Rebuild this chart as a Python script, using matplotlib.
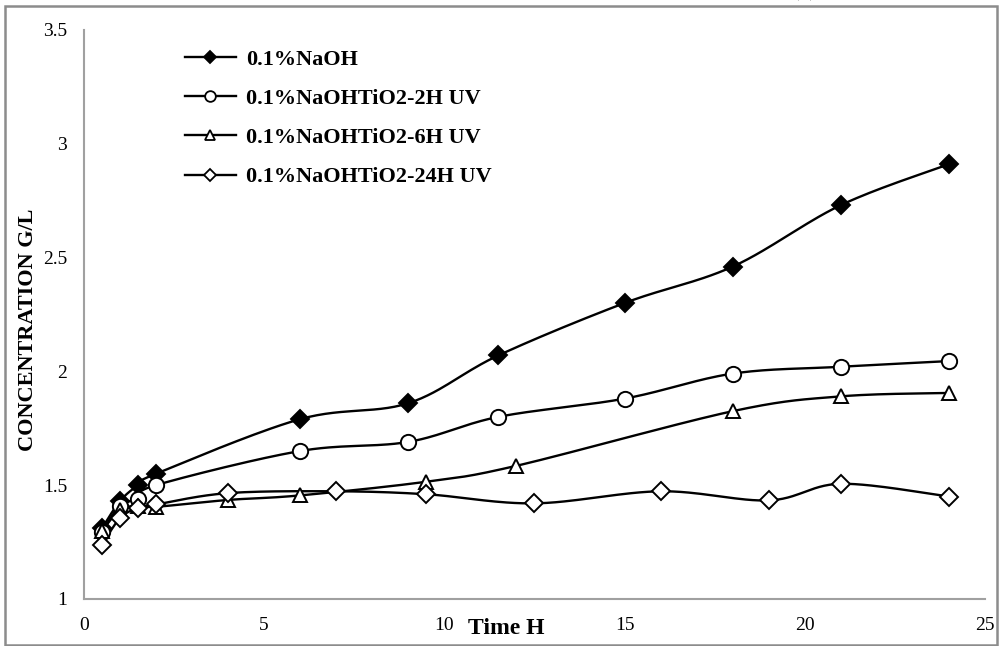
import numpy as np
import matplotlib
matplotlib.use("Agg")
import matplotlib.pyplot as plt
from matplotlib.patches import Rectangle

plt.rcParams['font.family'] = ['Liberation Serif', 'DejaVu Serif']

# data
naoh_x = [0.5, 1, 1.5, 2, 6, 9, 11.5, 15, 18, 21, 24]
naoh_y = [1.31, 1.43, 1.50, 1.55, 1.79, 1.86, 2.07, 2.30, 2.46, 2.73, 2.91]

uv2_x = [0.5, 1, 1.5, 2, 6, 9, 11.5, 15, 18, 21, 24]
uv2_y = [1.295, 1.41, 1.44, 1.50, 1.65, 1.69, 1.80, 1.88, 1.99, 2.02, 2.045]

uv6_x = [0.5, 1, 1.5, 2, 4, 6, 9.5, 12, 18, 21, 24]
uv6_y = [1.30, 1.39, 1.41, 1.405, 1.435, 1.455, 1.515, 1.585, 1.825, 1.89, 1.905]

uv24_x = [0.5, 1, 1.5, 2, 4, 7, 9.5, 12.5, 16, 19, 21, 24]
uv24_y = [1.237, 1.355, 1.40, 1.415, 1.465, 1.473, 1.46, 1.42, 1.473, 1.433, 1.506, 1.45]

labels = ['0.1%NaOH', '0.1%NaOHTiO2-2H UV', '0.1%NaOHTiO2-6H UV', '0.1%NaOHTiO2-24H UV']


def smooth(x, y, n=30):
    # catmull-rom style bezier, like the excel "smoothed line"
    x = np.asarray(x, float)
    y = np.asarray(y, float)
    p = np.column_stack([x, y])
    pts = [p[0]]
    t = np.linspace(0, 1, n)[1:]
    for i in range(len(p) - 1):
        p0 = p[i - 1] if i > 0 else p[i]
        p1 = p[i]
        p2 = p[i + 1]
        p3 = p[i + 2] if i + 2 < len(p) else p[i + 1]
        c1 = p1 + (p2 - p0) / 6.0
        c2 = p2 - (p3 - p1) / 6.0
        for tt in t:
            b = ((1 - tt) ** 3) * p1 + 3 * ((1 - tt) ** 2) * tt * c1 \
                + 3 * (1 - tt) * tt ** 2 * c2 + tt ** 3 * p2
            pts.append(b)
    pts = np.array(pts)
    return pts[:, 0], pts[:, 1]


fig = plt.figure(figsize=(9.99, 6.46), dpi=100)
ax = fig.add_axes([0.084, 0.0728, 0.902, 0.881])

series = [
    (naoh_x, naoh_y, 'D', 'black', 9),
    (uv2_x, uv2_y, 'o', 'white', 11),
    (uv6_x, uv6_y, '^', 'white', 10.5),
    (uv24_x, uv24_y, 'D', 'white', 9),
]

handles = []
for (x, y, m, fc, ms), lab in zip(series, labels):
    sx, sy = smooth(x, y)
    ax.plot(sx, sy, color='black', lw=1.7, zorder=2)
    ax.plot(x, y, linestyle='none', marker=m, markersize=ms,
            markerfacecolor=fc, markeredgecolor='black', markeredgewidth=1.4, zorder=3)
    h, = ax.plot([], [], color='black', lw=1.7, marker=m, markersize=ms * 0.7,
                 markerfacecolor=fc, markeredgecolor='black', markeredgewidth=1.3)
    handles.append(h)

ax.set_xlim(0, 25)
ax.set_ylim(1, 3.5)
ax.set_xticks([0, 5, 10, 15, 20, 25])
ax.set_yticks([1, 1.5, 2, 2.5, 3, 3.5])
ax.set_yticklabels(['1', '1.5', '2', '2.5', '3', '3.5'])
ax.tick_params(axis='both', length=0, labelsize=14)
ax.tick_params(axis='y', pad=12)
ax.tick_params(axis='x', pad=13)

ax.spines['top'].set_visible(False)
ax.spines['right'].set_visible(False)
ax.spines['left'].set_color('#a0a0a0')
ax.spines['bottom'].set_color('#a0a0a0')
ax.spines['left'].set_linewidth(1.5)
ax.spines['bottom'].set_linewidth(1.5)

# axis titles
fig.text(506 / 999, 1 - 628 / 646, 'Time H', ha='center', va='center',
         fontsize=17, fontweight='bold')
fig.text(28 / 999, 1 - 330 / 646, 'CONCENTRATION G/L', ha='center', va='center',
         rotation=90, fontsize=16, fontweight='bold')

leg = ax.legend(handles, labels, loc='upper left', bbox_to_anchor=(0.112, 0.966),
                frameon=False, borderpad=0, borderaxespad=0, handlelength=2.3,
                handletextpad=0.45, labelspacing=0.84, prop={'weight': 'bold', 'size': 16})

# outer frame of the chart + cut-off title
fig.patches.append(Rectangle((5 / 999, 1 / 646), 992 / 999, 639 / 646, transform=fig.transFigure,
                             fill=False, edgecolor='#8c8c8c', lw=1.8))
fig.text(0.805, 1.012, '(a)', ha='center', va='center', fontsize=16)

fig.savefig('out.png', dpi=100)
